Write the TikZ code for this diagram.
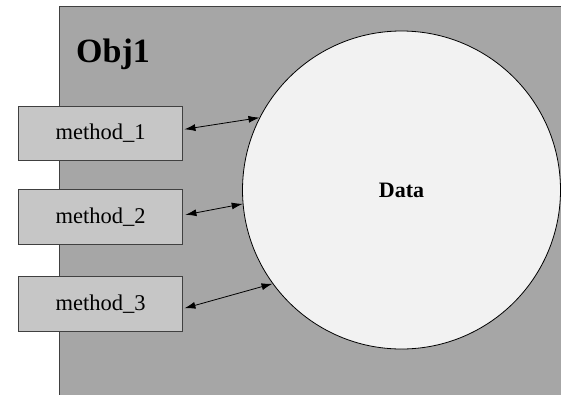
\documentclass[tikz,border=0pt]{standalone}
\usepackage{fontspec}
\setmainfont{Liberation Serif}
\usetikzlibrary{arrows.meta,calc}
\definecolor{objgrey}{HTML}{A6A6A6}
\definecolor{boxgrey}{HTML}{C6C6C6}
\definecolor{datagrey}{HTML}{F2F2F2}
\definecolor{edgegrey}{HTML}{404040}
\begin{document}
\begin{tikzpicture}[x=1pt,y=-1pt,
  methodbox/.style={draw=edgegrey,line width=0.9pt,fill=boxgrey,minimum width=164pt,minimum height=54.5pt,inner sep=0pt,font=\fontsize{22.5}{26}\selectfont},
  link/.style={{Latex[length=11pt,width=7pt]}-{Latex[length=11pt,width=7pt]},line width=0.8pt}]
\clip (0,0) rectangle (561,394);
\useasboundingbox (0,0) rectangle (561,394);
\node[draw=edgegrey,line width=1pt,fill=objgrey,minimum width=520pt,minimum height=400pt,anchor=north west,inner sep=0pt] (obj) at (58.5,6) {};
\node[anchor=base west,inner sep=0pt,font=\bfseries\fontsize{34}{40}\selectfont] (objlbl) at (76,62) {Obj1};
\node[circle,draw=black,line width=0.8pt,fill=datagrey,minimum size=318pt,inner sep=0pt,font=\bfseries\fontsize{22}{26}\selectfont] (data) at (401.5,190) {Data};
\node[methodbox] (m1) at (100.5,133.3) {method\_1};
\node[methodbox] (m2) at (100.5,216.8) {method\_2};
\node[methodbox] (m3) at (100.5,303.8) {method\_3};
\draw[link] ($(m1.east)+(1.5,-4)$) -- (data.153);
\draw[link] ($(m2.east)+(2.5,-2)$) -- (data.185);
\draw[link] ($(m3.east)+(1.5,4.5)$) -- (data.216);
\end{tikzpicture}
\end{document}
